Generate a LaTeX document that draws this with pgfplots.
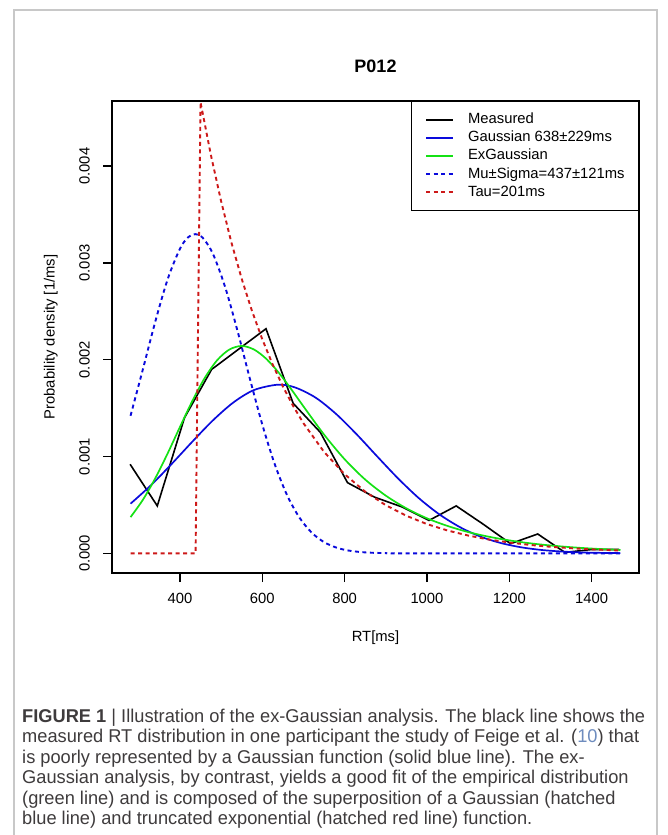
\documentclass[border=0pt]{standalone}
\usepackage{fontspec}
\setmainfont{Liberation Sans}
\usepackage{graphicx}
\usepackage{pgfplots}
\pgfplotsset{compat=1.18}

\definecolor{rblue}{RGB}{10,10,220}
\definecolor{rgreen}{RGB}{20,225,20}
\definecolor{rred}{RGB}{205,25,25}
\definecolor{framegray}{RGB}{200,200,200}
\definecolor{captxt}{RGB}{62,59,60}
\definecolor{reflink}{RGB}{110,140,190}

\newcommand\chartfont{\fontsize{14.8}{17}\selectfont}
\newcommand\capfont{\fontsize{18.5}{20.5}\selectfont}
\newsavebox\capline

\begin{document}%
\sbox\capline{\capfont\textbf{FIGURE 1} | Illustration of the ex-Gaussian analysis. The black line shows the}%
\pgfmathsetmacro\capsx{623/\the\wd\capline}%
\begin{tikzpicture}[x=1pt,y=1pt]
\useasboundingbox (0,0) rectangle (667,-835);
% light frame round the figure
\draw[framegray, line width=1.2pt] (14,-850) -- (14,-10) -- (657,-10) -- (657,-850);

\begin{axis}[
    at={(112pt,-573pt)}, anchor=south west,
    scale only axis, width=527pt, height=472pt,
    xmin=235, xmax=1515,
    ymin=-0.000203, ymax=0.004672,
    axis line style={line width=1.5pt},
    tick align=outside, tick pos=left,
    major tick length=9pt,
    tick style={line width=1.3pt, black},
    xtick={400,600,800,1000,1200,1400},
    ytick={0,0.001,0.002,0.003,0.004},
    scaled y ticks=false,
    font=\chartfont,
    /pgf/number format/assume math mode=true,
    /pgf/number format/1000 sep={},
    xticklabel style={anchor=north, inner sep=0pt, yshift=-10.8pt},
    yticklabel style={/pgf/number format/fixed, /pgf/number format/fixed zerofill,
        /pgf/number format/precision=3,
        xshift=-13pt, rotate=90, anchor=south, inner sep=0pt},
    xlabel={RT[ms]},
    xlabel style={at={(axis description cs:0.5,-0.138)}, anchor=center},
    ylabel={Probability density [1/ms]},
    ylabel style={at={(axis description cs:-0.116,0.5)}, anchor=center},
    legend cell align=left,
    legend image code/.code={\draw[#1] (0pt,0pt) -- (27pt,0pt);},
    legend style={at={(1,1)}, anchor=north east, draw=black, line width=1.4pt,
        fill=white, inner xsep=13.7pt, inner ysep=11.5pt, font=\chartfont,
        column sep=14pt, row sep=4.6pt,
        nodes={inner sep=0pt, text height=10.5pt, text depth=3pt}},
    ]

% measured RT distribution
\addplot[black, line width=1.6pt] coordinates {
    (279,0.00092) (345,0.00049) (411,0.00140) (477,0.00190) (543,0.00211)
    (609,0.00232) (675,0.00155) (741,0.00125) (807,0.00073) (873,0.00058)
    (939,0.00048) (1005,0.00034) (1071,0.00049) (1137,0.00030) (1203,0.00010)
    (1269,0.00020) (1335,0.00001) (1401,0.00004) (1467,0.00004)};

% Gaussian 638 +- 229
\addplot[rblue, line width=1.7pt, smooth] coordinates {
    (280,0.000513) (330,0.000705) (380,0.000924) (430,0.001153) (480,0.001373)
    (530,0.001559) (580,0.001687) (638,0.001742) (680,0.001713) (730,0.001607)
    (780,0.001437) (830,0.001226) (880,0.000997) (930,0.000773) (980,0.000571)
    (1030,0.000403) (1080,0.000271) (1130,0.000173) (1180,0.000106) (1230,0.0000616)
    (1280,0.0000342) (1330,0.0000181) (1380,0.0000091) (1430,0.0000044) (1470,0.0000024)};

% ex-Gaussian fit
\addplot[rgreen, line width=1.7pt, smooth] coordinates {
    (280,0.000374) (310,0.000553) (340,0.000775) (370,0.001031) (400,0.001305)
    (430,0.001573) (460,0.001810) (490,0.001993) (520,0.002105) (550,0.002142)
    (580,0.002105) (610,0.002008) (640,0.001866) (670,0.001697) (700,0.001518)
    (750,0.001227) (800,0.000972) (850,0.000762) (900,0.000596) (950,0.000465)
    (1000,0.000362) (1050,0.000283) (1100,0.000220) (1150,0.000172) (1200,0.000134)
    (1250,0.000104) (1300,0.0000814) (1350,0.0000635) (1400,0.0000495) (1470,0.0000350)};

% Gaussian part, mu 437 sigma 121
\addplot[rblue, line width=1.9pt, dash pattern=on 4pt off 3.5pt, smooth] coordinates {
    (280,0.001421) (310,0.001901) (340,0.002391) (370,0.002829) (400,0.003146)
    (420,0.003265) (437,0.003297) (455,0.003261) (480,0.003095) (510,0.002748)
    (540,0.002295) (570,0.001802) (600,0.001331) (630,0.000924) (660,0.000603)
    (690,0.000371) (720,0.000214) (750,0.000116) (780,0.0000593) (810,0.0000285)
    (850,0.0000097) (900,0.0000022) (950,0) (1470,0)};

% truncated exponential, tau 201
\addplot[rred, line width=1.9pt, dash pattern=on 4pt off 3.5pt] coordinates {
    (280,0) (438,0) (450,0.004660) (475,0.004118) (500,0.003637) (525,0.003211)
    (550,0.002836) (575,0.002504) (600,0.002211) (625,0.001953) (650,0.001724)
    (675,0.001522) (700,0.001344) (750,0.001048) (800,0.000817) (850,0.000637)
    (900,0.000497) (950,0.000388) (1000,0.000302) (1050,0.000236) (1100,0.000184)
    (1150,0.000143) (1200,0.000112) (1250,0.0000871) (1300,0.0000679)
    (1350,0.0000530) (1400,0.0000413) (1470,0.0000292)};

\legend{Measured, Gaussian 638±229ms, ExGaussian, Mu±Sigma=437±121ms, Tau=201ms}
\end{axis}

\node[font=\fontsize{18}{21}\selectfont\bfseries] at (375.5,-66) {P012};

% caption, each line squeezed to the width of the first
\begin{scope}[every node/.style={anchor=base west, inner sep=0pt, text=captxt}]
\node at (22,-722) {\scalebox{\capsx}[1]{\capfont\textbf{FIGURE 1} | Illustration of the ex-Gaussian analysis. The black line shows the}};
\node at (22,-742.5) {\scalebox{\capsx}[1]{\capfont measured RT distribution in one participant the study of Feige et al. ({\color{reflink}10}) that}};
\node at (22,-763) {\scalebox{\capsx}[1]{\capfont is poorly represented by a Gaussian function (solid blue line). The ex-}};
\node at (22,-783.5) {\scalebox{\capsx}[1]{\capfont Gaussian analysis, by contrast, yields a good fit of the empirical distribution}};
\node at (22,-804) {\scalebox{\capsx}[1]{\capfont (green line) and is composed of the superposition of a Gaussian (hatched}};
\node at (22,-824.5) {\scalebox{\capsx}[1]{\capfont blue line) and truncated exponential (hatched red line) function.}};
\end{scope}
\end{tikzpicture}%
\end{document}
